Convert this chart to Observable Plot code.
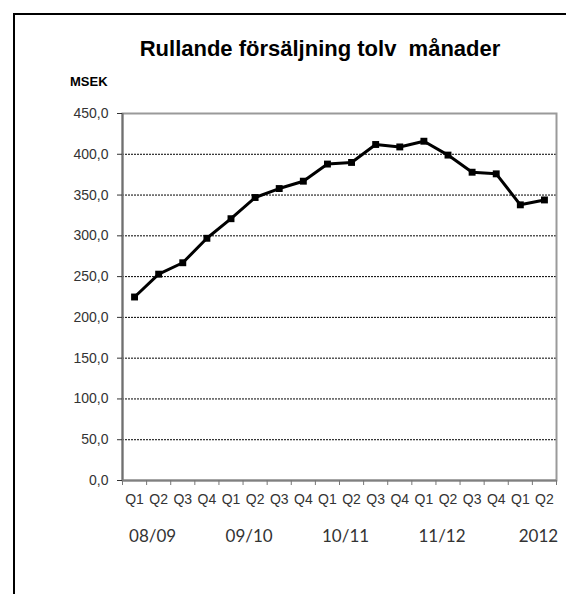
<!DOCTYPE html>
<html>
<head>
<meta charset="utf-8">
<script src="https://cdn.jsdelivr.net/npm/d3@7"></script>
<script src="https://cdn.jsdelivr.net/npm/@observablehq/plot@0.6"></script>
<style>
  body { margin: 0; background: #fff; }
  #wrap { position: relative; width: 566px; height: 594px; overflow: hidden; font-family: "Liberation Sans", Arial, sans-serif; }
  #frame { position: absolute; left: 13px; top: 13px; width: 700px; height: 700px; border-left: 2px solid #000; border-top: 2px solid #000; }
  #title { position: absolute; left: 0; width: 640px; top: 38px; line-height: 1; text-align: center; font-size: 22px; font-weight: bold; white-space: pre; color: #000; }
  #unit { position: absolute; left: 70px; top: 75px; line-height: 1; font-size: 13px; font-weight: bold; color: #000; }
  #chart { position: absolute; left: 0; top: 0; }
</style>
</head>
<body>
<div id="wrap">
  <div id="frame"></div>
  <div id="chart"></div>
  <div id="title">Rullande försäljning tolv  månader</div>
  <div id="unit">MSEK</div>
</div>
<script>
const periods  = ["08/09","08/09","08/09","08/09","09/10","09/10","09/10","09/10","10/11","10/11","10/11","10/11","11/12","11/12","11/12","11/12","2012","2012"];
const quarters = ["Q1","Q2","Q3","Q4","Q1","Q2","Q3","Q4","Q1","Q2","Q3","Q4","Q1","Q2","Q3","Q4","Q1","Q2"];
const sales    = [225, 253, 267, 297, 321, 347, 358, 367, 388, 390, 412, 409, 416, 399, 378, 376, 338, 344];
const yTicks   = [0, 50, 100, 150, 200, 250, 300, 350, 400, 450];

const idx = sales.map((d, i) => i);
const yearIdx = idx.filter(i => quarters[i] === "Q2");
const boundaries = [-0.5, ...idx.map(i => i + 0.5)];

const chart = Plot.plot({
  width: 566,
  height: 594,
  marginLeft: 122,
  marginRight: 10,
  marginTop: 113,
  marginBottom: 114,
  style: { fontFamily: "'Liberation Sans', Arial, sans-serif", fontSize: "14px", background: "transparent", overflow: "visible" },
  x: { domain: [-0.5, sales.length - 0.5] },
  y: { domain: [0, 450] },
  marks: [
    Plot.gridY(yTicks.filter(v => v > 0 && v < 450), { stroke: "#000", strokeOpacity: 1, strokeWidth: 1, strokeDasharray: "2,1" }),
    Plot.frame({ stroke: "#9a9a9a", strokeWidth: 2 }),
    Plot.ruleX([-0.5], { stroke: "#707070", strokeWidth: 2 }),
    Plot.ruleY([0], { stroke: "#808080", strokeWidth: 2 }),
    Plot.axisY(yTicks, { tickSize: 5, tickPadding: 9, fontSize: 14, color: "#333", tickFormat: d => d.toFixed(1).replace(".", ","), label: null }),
    Plot.axisX(boundaries, { tickSize: 5, tickFormat: () => "", color: "#777", label: null }),
    Plot.axisX(idx, { tickSize: 0, tickPadding: 14, fontSize: 14, color: "#333", tickFormat: i => quarters[i], label: null }),
    Plot.text(yearIdx, { x: i => i, text: i => periods[i], frameAnchor: "bottom", dy: 61, dx: -6, fontSize: 17, fontFamily: "Lato, 'Open Sans', sans-serif", fill: "#333" }),
    Plot.line(idx, { x: i => i, y: i => sales[i], stroke: "#000", strokeWidth: 3, strokeLinejoin: "miter" }),
    Plot.dot(idx, { x: i => i, y: i => sales[i], symbol: "square", fill: "#000", stroke: "none", r: 3.9 })
  ]
});
document.getElementById("chart").appendChild(chart);
</script>
</body>
</html>
